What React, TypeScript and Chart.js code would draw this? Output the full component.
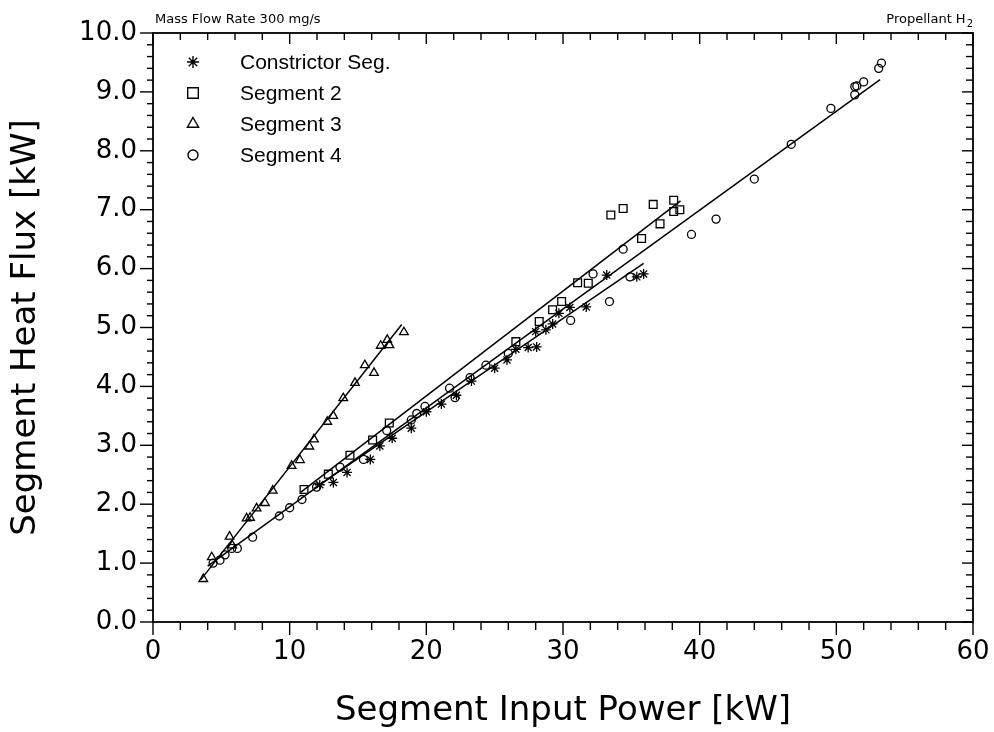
import React, { useEffect, useRef } from "react";
import { Chart, registerables } from "chart.js";

Chart.register(...registerables);

// ---- data (Segment Input Power [kW], Segment Heat Flux [kW]) ----
const constrictorSeg = [
  { x: 12.2, y: 2.33 }, { x: 13.2, y: 2.37 }, { x: 14.2, y: 2.54 }, { x: 15.9, y: 2.76 },
  { x: 16.6, y: 2.99 }, { x: 17.5, y: 3.12 }, { x: 18.9, y: 3.29 }, { x: 20.0, y: 3.57 },
  { x: 21.1, y: 3.70 }, { x: 22.2, y: 3.85 }, { x: 23.3, y: 4.09 }, { x: 25.0, y: 4.31 },
  { x: 25.9, y: 4.45 }, { x: 26.55, y: 4.63 }, { x: 27.45, y: 4.66 }, { x: 28.07, y: 4.67 },
  { x: 28.0, y: 4.93 }, { x: 28.75, y: 4.96 }, { x: 29.24, y: 5.06 }, { x: 29.7, y: 5.24 },
  { x: 30.5, y: 5.34 }, { x: 31.7, y: 5.35 }, { x: 33.2, y: 5.89 }, { x: 35.4, y: 5.86 },
  { x: 35.9, y: 5.91 },
];
const segment2 = [
  { x: 11.05, y: 2.25 }, { x: 12.83, y: 2.51 }, { x: 14.41, y: 2.83 }, { x: 16.07, y: 3.09 },
  { x: 17.29, y: 3.38 }, { x: 26.55, y: 4.76 }, { x: 28.26, y: 5.10 }, { x: 29.24, y: 5.30 },
  { x: 29.9, y: 5.44 }, { x: 31.07, y: 5.76 }, { x: 31.85, y: 5.75 }, { x: 33.5, y: 6.91 },
  { x: 34.4, y: 7.02 }, { x: 35.75, y: 6.51 }, { x: 36.6, y: 7.09 }, { x: 37.1, y: 6.76 },
  { x: 38.1, y: 7.16 }, { x: 38.1, y: 6.97 }, { x: 38.55, y: 7.0 },
];
const segment3 = [
  { x: 3.68, y: 0.73 }, { x: 4.3, y: 1.1 }, { x: 5.6, y: 1.45 }, { x: 5.8, y: 1.3 },
  { x: 6.85, y: 1.76 }, { x: 7.1, y: 1.77 }, { x: 7.58, y: 1.93 }, { x: 8.19, y: 2.02 },
  { x: 8.76, y: 2.23 }, { x: 10.14, y: 2.65 }, { x: 10.75, y: 2.75 }, { x: 11.44, y: 2.98 },
  { x: 11.78, y: 3.10 }, { x: 12.75, y: 3.40 }, { x: 13.19, y: 3.50 }, { x: 13.92, y: 3.80 },
  { x: 14.78, y: 4.06 }, { x: 15.5, y: 4.36 }, { x: 16.17, y: 4.23 }, { x: 16.66, y: 4.69 },
  { x: 17.14, y: 4.79 }, { x: 17.3, y: 4.70 }, { x: 18.36, y: 4.92 },
];
const segment4 = [
  { x: 4.4, y: 1.0 }, { x: 4.9, y: 1.05 }, { x: 5.27, y: 1.14 }, { x: 5.76, y: 1.25 },
  { x: 6.17, y: 1.25 }, { x: 7.29, y: 1.44 }, { x: 9.24, y: 1.80 }, { x: 10.0, y: 1.94 },
  { x: 10.9, y: 2.08 }, { x: 11.97, y: 2.29 }, { x: 13.68, y: 2.63 }, { x: 15.4, y: 2.76 },
  { x: 17.1, y: 3.25 }, { x: 18.9, y: 3.43 }, { x: 19.3, y: 3.54 }, { x: 19.9, y: 3.66 },
  { x: 21.7, y: 3.97 }, { x: 22.1, y: 3.81 }, { x: 23.2, y: 4.15 }, { x: 24.36, y: 4.36 },
  { x: 26.0, y: 4.56 }, { x: 30.56, y: 5.12 }, { x: 32.2, y: 5.91 }, { x: 33.4, y: 5.44 },
  { x: 34.4, y: 6.33 }, { x: 34.9, y: 5.86 }, { x: 39.4, y: 6.58 }, { x: 41.2, y: 6.84 },
  { x: 44.0, y: 7.52 }, { x: 46.7, y: 8.11 }, { x: 49.6, y: 8.72 }, { x: 51.35, y: 8.95 },
  { x: 51.35, y: 9.09 }, { x: 51.5, y: 9.1 }, { x: 52.0, y: 9.17 }, { x: 53.1, y: 9.40 },
  { x: 53.3, y: 9.49 },
];
// fitted straight lines (end points)
const constrictorFit = [{ x: 11.8, y: 2.27 }, { x: 35.9, y: 6.09 }];
const segment2Fit = [{ x: 10.8, y: 2.2 }, { x: 38.6, y: 7.15 }];
const segment3Fit = [{ x: 3.5, y: 0.72 }, { x: 18.2, y: 5.05 }];
const segment4Fit = [{ x: 4.0, y: 0.95 }, { x: 53.2, y: 9.21 }];

const legendLabels = ["Constrictor Seg.", "Segment 2", "Segment 3", "Segment 4"];
const xMin = 0, xMax = 60, xMajor = 10, xMinor = 2;
const yMin = 0, yMax = 10, yMajor = 1, yMinor = 0.2;
const headerLeft = "Mass Flow Rate 300 mg/s";
const headerRight = "Propellant H";
const headerRightSub = "2";
const xTitle = "Segment Input Power [kW]";
const yTitle = "Segment Heat Flux [kW]";

const FONT = "'DejaVu Sans', sans-serif";
const LFONT = "'Liberation Sans', sans-serif";

function drawMarker(ctx: CanvasRenderingContext2D, style: string, x: number, y: number, r: number) {
  ctx.beginPath();
  if (style === "rect") {
    const s = r / Math.SQRT2;
    ctx.rect(x - s, y - s, 2 * s, 2 * s);
  } else if (style === "triangle") {
    ctx.moveTo(x, y - r);
    ctx.lineTo(x + r * 0.866, y + r * 0.5);
    ctx.lineTo(x - r * 0.866, y + r * 0.5);
    ctx.closePath();
  } else if (style === "circle") {
    ctx.arc(x, y, r, 0, Math.PI * 2);
  } else if (style === "star") {
    for (let i = 0; i < 4; i++) {
      const a = (i * Math.PI) / 4;
      ctx.moveTo(x - Math.cos(a) * r, y - Math.sin(a) * r);
      ctx.lineTo(x + Math.cos(a) * r, y + Math.sin(a) * r);
    }
  }
  ctx.stroke();
}

const framePlugin = {
  id: "frameTicks",
  afterDraw(chart: any) {
    const { ctx, chartArea: a, scales } = chart;
    const xs = scales.x, ys = scales.y;
    ctx.save();
    ctx.strokeStyle = "#000";
    ctx.lineWidth = 1.8;
    ctx.strokeRect(a.left, a.top, a.right - a.left, a.bottom - a.top);
    ctx.lineWidth = 1.4;
    const line = (x1: number, y1: number, x2: number, y2: number) => {
      ctx.beginPath(); ctx.moveTo(x1, y1); ctx.lineTo(x2, y2); ctx.stroke();
    };
    const nx = Math.round((xMax - xMin) / xMinor);
    for (let i = 0; i <= nx; i++) {
      const v = xMin + i * xMinor;
      const px = xs.getPixelForValue(v);
      const major = Math.abs(v / xMajor - Math.round(v / xMajor)) < 1e-6;
      line(px, a.bottom, px, a.bottom + (major ? 13 : 8));
      line(px, a.top, px, a.top + (major ? 11 : 7));
    }
    const ny = Math.round((yMax - yMin) / yMinor);
    for (let i = 0; i <= ny; i++) {
      const v = yMin + i * yMinor;
      const py = ys.getPixelForValue(v);
      const major = i % Math.round(yMajor / yMinor) === 0;
      line(a.left - (major ? 13 : 6), py, a.left, py);
      line(a.right - (major ? 11 : 7), py, a.right, py);
    }
    // header texts
    ctx.fillStyle = "#000";
    ctx.textBaseline = "alphabetic";
    ctx.font = `13px ${FONT}`;
    ctx.textAlign = "left";
    ctx.fillText(headerLeft, a.left + 2, 23);
    ctx.font = `10px ${FONT}`;
    const subW = ctx.measureText(headerRightSub).width;
    ctx.fillText(headerRightSub, a.right - subW, 27);
    ctx.font = `13px ${FONT}`;
    ctx.textAlign = "right";
    ctx.fillText(headerRight, a.right - subW - 1, 23);
    // legend
    const styles = ["star", "rect", "triangle", "circle"];
    const radii = [6, 7.5, 6.5, 5];
    ctx.font = `21px ${LFONT}`;
    ctx.textAlign = "left";
    ctx.textBaseline = "middle";
    ctx.lineWidth = 1.4;
    legendLabels.forEach((lab, i) => {
      const yy = a.top + 29 + i * 31;
      drawMarker(ctx, styles[i], a.left + 40, yy, radii[i]);
      ctx.fillText(lab, a.left + 87, yy + 1);
    });
    ctx.restore();
  },
};

export default function App() {
  const ref = useRef<HTMLCanvasElement>(null);
  useEffect(() => {
    if (!ref.current) return;
    const pt = (label: string, data: any[], style: string, r: number) => ({
      type: "scatter" as const,
      label,
      data,
      pointStyle: style,
      pointRadius: r,
      pointBorderWidth: 1.3,
      borderColor: "#000",
      pointBorderColor: "#000",
      backgroundColor: "rgba(0,0,0,0)",
      pointBackgroundColor: "rgba(0,0,0,0)",
      showLine: false,
    });
    const fit = (data: any[]) => ({
      type: "line" as const,
      label: "",
      data,
      borderColor: "#000",
      borderWidth: 1.5,
      pointRadius: 0,
      showLine: true,
      fill: false,
    });
    const chart = new Chart(ref.current, {
      type: "scatter",
      data: {
        datasets: [
          fit(constrictorFit), fit(segment2Fit), fit(segment3Fit), fit(segment4Fit),
          pt(legendLabels[0], constrictorSeg, "star", 5),
          pt(legendLabels[1], segment2, "rect", 5.5),
          pt(legendLabels[2], segment3, "triangle", 5),
          pt(legendLabels[3], segment4, "circle", 4),
        ] as any,
      },
      options: {
        animation: false,
        responsive: false,
        devicePixelRatio: 1,
        layout: { padding: { left: 0, right: 21, top: 33, bottom: 0 } },
        plugins: { legend: { display: false }, tooltip: { enabled: false } },
        scales: {
          x: {
            type: "linear",
            min: xMin, max: xMax,
            grid: { display: false, drawTicks: false },
            border: { display: false },
            ticks: {
              stepSize: xMajor, padding: 15, color: "#000",
              font: { family: FONT, size: 26 },
              maxRotation: 0,
            },
            title: {
              display: true, text: xTitle, color: "#000",
              font: { family: FONT, size: 34 },
              padding: { top: 0, bottom: 0 },
            },
            afterFit: (s: any) => { s.height = 110; s.paddingLeft = 0; s.paddingRight = 0; },
          },
          y: {
            type: "linear",
            min: yMin, max: yMax,
            grid: { display: false, drawTicks: false },
            border: { display: false },
            ticks: {
              stepSize: yMajor, padding: 16, color: "#000",
              font: { family: FONT, size: 26 },
              callback: (v: any) => Number(v).toFixed(1),
            },
            title: {
              display: true, text: yTitle, color: "#000",
              font: { family: FONT, size: 34 },
              padding: { top: 6, bottom: 0 },
            },
            afterFit: (s: any) => { s.width = 153; s.paddingTop = 0; s.paddingBottom = 0; },
          },
        },
      },
      plugins: [framePlugin],
    });
    return () => chart.destroy();
  }, []);
  return (
    <div style={{ position: "absolute", left: 0, top: 0, width: 994, height: 732, background: "#fff" }}>
      <canvas ref={ref} width={994} height={732} style={{ display: "block" }} />
    </div>
  );
}
